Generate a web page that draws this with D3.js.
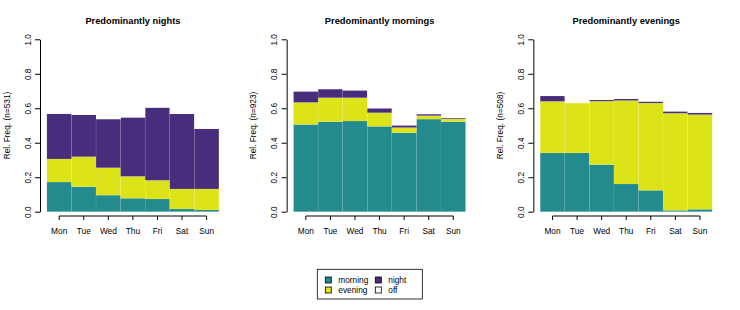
<!DOCTYPE html>
<html>
<head>
<meta charset="utf-8">
<script src="https://cdn.jsdelivr.net/npm/d3@7"></script>
<style>
  body { margin: 0; background: #fff; }
  svg { font-family: "Liberation Sans", Arial, sans-serif; }
</style>
</head>
<body>
<div id="chart"></div>
<script>
// Data: share of each part of the day, per weekday, for each cluster
var days = ["Mon", "Tue", "Wed", "Thu", "Fri", "Sat", "Sun"];
var parts = ["morning", "evening", "night", "off"];
var partColors = ["#238A8D", "#DCE319", "#472D7B", "#FFFFFF"];

var panelTitles = ["Predominantly nights", "Predominantly mornings", "Predominantly evenings"];
var panelN = [531, 923, 508];

var nightsMorning = [0.172, 0.145, 0.096, 0.078, 0.074, 0.016, 0.010];
var nightsEvening = [0.134, 0.174, 0.159, 0.127, 0.108, 0.116, 0.122];
var nightsNight   = [0.262, 0.243, 0.282, 0.342, 0.422, 0.435, 0.349];

var morningsMorning = [0.506, 0.522, 0.526, 0.495, 0.458, 0.537, 0.522];
var morningsEvening = [0.128, 0.139, 0.135, 0.079, 0.030, 0.020, 0.016];
var morningsNight   = [0.064, 0.050, 0.043, 0.026, 0.013, 0.009, 0.005];

var eveningsMorning = [0.341, 0.341, 0.273, 0.161, 0.124, 0.008, 0.014];
var eveningsEvening = [0.299, 0.289, 0.368, 0.484, 0.506, 0.563, 0.549];
var eveningsNight   = [0.031, 0.000, 0.007, 0.009, 0.009, 0.011, 0.011];

var yTicks = [0, 0.2, 0.4, 0.6, 0.8, 1.0];

// build row tables for the stack
function buildRows(m, e, n) {
    return days.map(function(d, i) {
        return { day: d, morning: m[i], evening: e[i], night: n[i], off: 1 - m[i] - e[i] - n[i] };
    });
}
var panelData = [
    buildRows(nightsMorning, nightsEvening, nightsNight),
    buildRows(morningsMorning, morningsEvening, morningsNight),
    buildRows(eveningsMorning, eveningsEvening, eveningsNight)
];

var width = 740, height = 310;
var panelW = width / 3;

var svg = d3.select("#chart").append("svg")
    .attr("width", width)
    .attr("height", height);

var color = d3.scaleOrdinal().domain(parts).range(partColors);
var stack = d3.stack().keys(parts);

var y = d3.scaleLinear().domain([0, 1]).range([211.7, 39.3]);
var x = d3.scaleBand().domain(days).range([46.9, 218.9]).padding(0);

panelData.forEach(function(rows, p) {
    var g = svg.append("g").attr("transform", "translate(" + (p * panelW) + ",0)");

    // Title
    g.append("text")
        .attr("x", (x.range()[0] + x.range()[1]) / 2)
        .attr("y", 23.5)
        .attr("text-anchor", "middle")
        .style("font-size", "9.3px")
        .style("font-weight", "bold")
        .text(panelTitles[p]);

    // Stacked bars
    var series = stack(rows);
    g.selectAll(".layer")
        .data(series)
        .enter().append("g")
        .attr("class", "layer")
        .attr("fill", function(d) { return color(d.key); })
        .selectAll("rect")
        .data(function(d) { return d; })
        .enter().append("rect")
        .attr("x", function(d) { return x(d.data.day); })
        .attr("width", x.bandwidth())
        .attr("y", function(d) { return y(d[1]); })
        .attr("height", function(d) { return y(d[0]) - y(d[1]); })
        .attr("stroke", function(d) { return this.parentNode.getAttribute("fill") === "#FFFFFF" ? "none" : "rgba(255,255,255,0.15)"; })
        .attr("stroke-width", 0.5);

    // Y axis
    var yAxis = g.append("g")
        .attr("transform", "translate(40,0)")
        .call(d3.axisLeft(y).tickValues(yTicks).tickSize(5).tickSizeOuter(0)
            .tickFormat(d3.format(".1f")));
    yAxis.select(".domain").attr("stroke", "#000");
    yAxis.selectAll(".tick line").attr("stroke", "#000");
    yAxis.selectAll(".tick text")
        .attr("x", 0)
        .attr("dy", 0)
        .attr("transform", "translate(-9.5,0) rotate(-90)")
        .attr("text-anchor", "middle")
        .style("font-size", "8.3px")
        .style("font-family", "Liberation Sans, Arial, sans-serif")
        .attr("fill", "#000");

    // Y label
    g.append("text")
        .attr("transform", "translate(9.5," + ((y(0) + y(1)) / 2) + ") rotate(-90)")
        .attr("text-anchor", "middle")
        .style("font-size", "8.3px")
        .text("Rel. Freq. (n=" + panelN[p] + ")");

    // X axis (line only between first and last tick, R style)
    var xAxis = g.append("g")
        .attr("transform", "translate(0,216)")
        .call(d3.axisBottom(x).tickSize(4).tickSizeOuter(0).tickPadding(8));
    xAxis.select(".domain").remove();
    xAxis.append("line")
        .attr("x1", x(days[0]) + x.bandwidth() / 2)
        .attr("x2", x(days[days.length - 1]) + x.bandwidth() / 2)
        .attr("stroke", "#000");
    xAxis.selectAll(".tick line").attr("stroke", "#000");
    xAxis.selectAll(".tick text")
        .style("font-size", "8.3px")
        .style("font-family", "Liberation Sans, Arial, sans-serif")
        .attr("fill", "#000");
});

// Legend
var legend = svg.append("g");
legend.append("rect")
    .attr("x", 317.3).attr("y", 269.3)
    .attr("width", 105).attr("height", 29.7)
    .attr("fill", "none").attr("stroke", "#000").attr("stroke-width", 0.8);

var legendOrder = [["morning", 0, 0], ["evening", 0, 1], ["night", 1, 0], ["off", 1, 1]];
legendOrder.forEach(function(item) {
    var lx = 325.3 + item[1] * 50;
    var ly = 277 + item[2] * 10;
    legend.append("rect")
        .attr("x", lx).attr("y", ly)
        .attr("width", 6).attr("height", 6)
        .attr("fill", color(item[0]))
        .attr("stroke", "#000").attr("stroke-width", 0.8);
    legend.append("text")
        .attr("x", lx + 13).attr("y", ly + 6)
        .style("font-size", "8.3px")
        .text(item[0]);
});
</script>
</body>
</html>
